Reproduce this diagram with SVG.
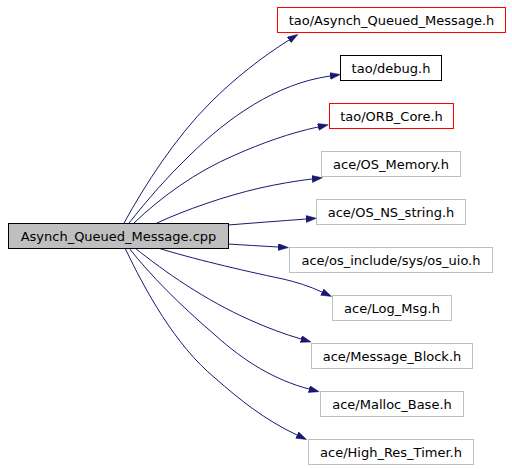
<svg xmlns="http://www.w3.org/2000/svg" width="512" height="469" viewBox="0 0 512 469">
<style>
  .n rect { stroke-width: 1; }
  .main rect { fill: #bfbfbf; stroke: #000000; }
  .blk rect { fill: #ffffff; stroke: #000000; }
  .red rect { fill: #ffffff; stroke: #ff0000; }
  .gry rect { fill: #ffffff; stroke: #bfbfbf; }
  text { font-family: "DejaVu Sans", "Liberation Sans", sans-serif; font-size: 13px; fill: #000000; text-anchor: middle; }
  .e path { fill: none; stroke: #191970; stroke-width: 1; }
</style>
<defs>
  <marker id="arr" markerUnits="userSpaceOnUse" markerWidth="11" markerHeight="8" refX="0" refY="3.5" orient="auto">
    <path d="M0,0 L10.5,3.5 L0,7 z" fill="#191970" stroke="#191970" stroke-width="0.5"/>
  </marker>
</defs>
<rect width="512" height="469" fill="#ffffff"/>
<g id="edges" class="e">
  <path marker-end="url(#arr)" d="M124,223 C145,185 175,138 210,103 C235,78 262,57 289,40"/>
  <path marker-end="url(#arr)" d="M129,223 C148,199 168,176 190,155 C228,118 275,84 330,76"/>
  <path marker-end="url(#arr)" d="M134,223 C160,198 195,172 235,155 C262,143 290,133 318,127"/>
  <path marker-end="url(#arr)" d="M157,223 C185,210 225,196 260,188 C278,184 295,181 312,179"/>
  <path marker-end="url(#arr)" d="M228,225 C253,223 280,221 306,219"/>
  <path marker-end="url(#arr)" d="M228,244 C244,245 261,246 278,247"/>
  <path marker-end="url(#arr)" d="M158,248 C190,258 240,270 283,279 C296,282 309,286 322,292"/>
  <path marker-end="url(#arr)" d="M135,248 C165,272 205,300 250,320 C268,328 284,334 301,339"/>
  <path marker-end="url(#arr)" d="M129,248 C150,275 180,305 215,335 C245,362 275,380 309,389"/>
  <path marker-end="url(#arr)" d="M125,248 C145,290 175,345 215,378 C240,400 265,420 297,435"/>
</g>
<g id="node_main" class="n main"><rect x="8.5" y="223.5" width="220" height="25"/><text x="118.5" y="240.5">Asynch_Queued_Message.cpp</text></g>
<g id="node_tao_asynch" class="n red"><rect x="277.5" y="7.5" width="228" height="25"/><text x="391.5" y="24.5">tao/Asynch_Queued_Message.h</text></g>
<g id="node_tao_debug" class="n blk"><rect x="340.5" y="55.5" width="101" height="25"/><text x="391" y="72.5">tao/debug.h</text></g>
<g id="node_tao_orb" class="n red"><rect x="329.5" y="103.5" width="124" height="25"/><text x="391.5" y="120.5">tao/ORB_Core.h</text></g>
<g id="node_os_memory" class="n gry"><rect x="321.5" y="151.5" width="139" height="25"/><text x="391" y="168.5">ace/OS_Memory.h</text></g>
<g id="node_os_ns_string" class="n gry"><rect x="316.5" y="199.5" width="149" height="25"/><text x="391" y="216.5">ace/OS_NS_string.h</text></g>
<g id="node_os_uio" class="n gry"><rect x="289.5" y="247.5" width="203" height="25"/><text x="391" y="264.5">ace/os_include/sys/os_uio.h</text></g>
<g id="node_log_msg" class="n gry"><rect x="332.5" y="295.5" width="119" height="25"/><text x="392" y="312.5">ace/Log_Msg.h</text></g>
<g id="node_message_block" class="n gry"><rect x="311.5" y="343.5" width="161" height="25"/><text x="392" y="360.5">ace/Message_Block.h</text></g>
<g id="node_malloc_base" class="n gry"><rect x="320.5" y="391.5" width="143" height="25"/><text x="392" y="408.5">ace/Malloc_Base.h</text></g>
<g id="node_high_res_timer" class="n gry"><rect x="308.5" y="439.5" width="165" height="25"/><text x="391" y="456.5">ace/High_Res_Timer.h</text></g>
</svg>
